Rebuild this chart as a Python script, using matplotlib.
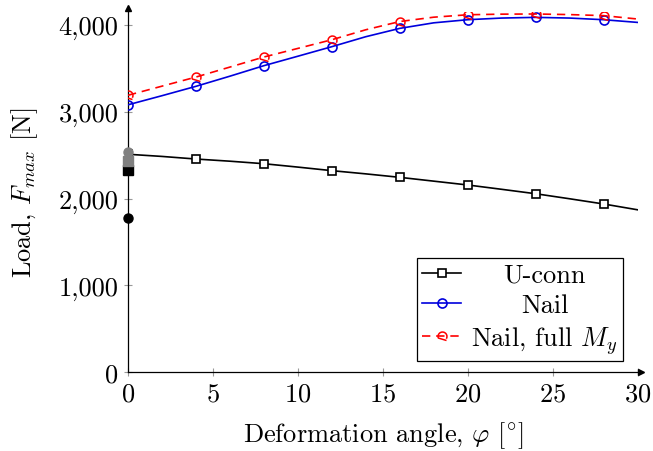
import numpy as np
import matplotlib
matplotlib.use("Agg")
import matplotlib.pyplot as plt
from matplotlib.path import Path
from matplotlib.ticker import FuncFormatter

plt.rcParams['font.family'] = ['cmr10', 'DejaVu Serif']
plt.rcParams['mathtext.fontset'] = 'cm'
plt.rcParams['axes.formatter.use_mathtext'] = True

# ---- data ----
angle = [0, 2, 4, 6, 8, 10, 12, 14, 16, 18, 20, 22, 24, 26, 28, 30]
uconn = [2510, 2485, 2455, 2430, 2401, 2362, 2321, 2284, 2244, 2200, 2156, 2106, 2055, 1997, 1937, 1870]
nail = [3080, 3185, 3293, 3410, 3531, 3640, 3750, 3865, 3961, 4025, 4061, 4080, 4088, 4080, 4061, 4030]
nail_full = [3190, 3295, 3400, 3515, 3631, 3730, 3830, 3945, 4040, 4090, 4118, 4125, 4127, 4120, 4108, 4069]
mark_every = [0, 2, 4, 6, 8, 10, 12, 14]  # indices of 0,4,8,...,28

test_x = [0, 0, 0, 0]
test_y = [2330, 2432, 2536, 1775]
test_color = ['black', 'gray', 'gray', 'black']
test_marker = ['s', 's', 'o', 'o']

xticks = [0, 5, 10, 15, 20, 25, 30]
yticks = [0, 1000, 2000, 3000, 4000]

FS = 19

fig = plt.figure(figsize=(6.53, 4.52), dpi=100)
ax = fig.add_axes([128/653, 1-373/452, (637.5-128)/653, 4.15*86.75/452])

arc = Path.arc(-30, 200)
hook = Path(np.vstack([arc.vertices, [[0.9, -0.9]]]),
            list(arc.codes) + [Path.LINETO])

ax.plot(angle, uconn, color='black', lw=1.2, marker='s', markersize=6,
        markerfacecolor='white', markeredgewidth=1.2, markevery=mark_every,
        label='U-conn', zorder=3)
ax.plot(angle, nail, color='#0000dd', lw=1.2, marker='o', markersize=6.5,
        markerfacecolor='none', markeredgewidth=1.2, markevery=mark_every,
        label='Nail', zorder=3)
ax.plot(angle, nail_full, color='red', lw=1.2, ls=(0, (5, 3.5)), marker=hook,
        markersize=6.5, markerfacecolor='none', markeredgewidth=1.1,
        markevery=mark_every, label=r'Nail, full $M_y$', zorder=3)

for x, y, c, m in zip(test_x, test_y, test_color, test_marker):
    ax.plot([x], [y], marker=m, color=c, markersize=6.5, ls='none',
            clip_on=False, zorder=5)

ax.set_xlim(0, 30)
ax.set_ylim(0, 4150)
ax.set_xticks(xticks)
ax.set_yticks(yticks)
ax.yaxis.set_major_formatter(FuncFormatter(lambda v, p: f"{int(v):,}"))

for s in ['top', 'right']:
    ax.spines[s].set_visible(False)
for s in ['left', 'bottom']:
    ax.spines[s].set_linewidth(0.9)
    ax.spines[s].set_color('black')

ax.plot(1.006, 0, marker='>', color='black', markersize=5,
        transform=ax.transAxes, clip_on=False)
ax.plot(0, 1.01, marker='^', color='black', markersize=5,
        transform=ax.transAxes, clip_on=False)

ax.tick_params(direction='inout', length=6, width=0.8, color='#999999',
               labelsize=FS, pad=4)

ax.set_xlabel(r'Deformation angle, $\varphi$ [$^{\!\circ}\!$]', fontsize=FS, labelpad=10)
ax.set_ylabel(r'Load, $F_{max}$ [N]', fontsize=FS, labelpad=13)

leg = ax.legend(loc='lower right', bbox_to_anchor=(623/653, 1-362/452),
                bbox_transform=fig.transFigure, borderaxespad=0,
                fontsize=FS, frameon=True, fancybox=False, edgecolor='black',
                framealpha=1, handlelength=1.45, labelspacing=0.25,
                borderpad=0.2, handletextpad=0.4)
leg.get_frame().set_linewidth(0.9)

# centre legend texts within their column
fig.canvas.draw()
r = fig.canvas.get_renderer()
ws = [t.get_window_extent(r).width for t in leg.get_texts()]
mw = max(ws)
for t, w in zip(leg.get_texts(), ws):
    t.set_x((mw - w) / 2)

fig.savefig('out.png', dpi=100)
